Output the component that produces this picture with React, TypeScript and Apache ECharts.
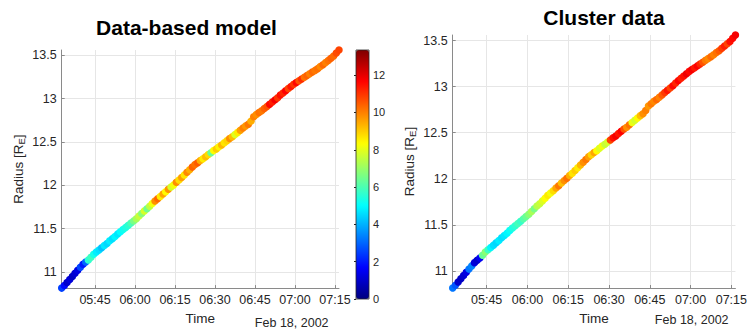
import React, { useEffect, useRef } from "react";
import * as echarts from "echarts";

// Sample times: one sample per minute starting 05:32:30 on Feb 18, 2002
const startTime = new Date(2002, 1, 18, 5, 32, 30).getTime();
const sampleStepMs = 60 * 1000;

// Radial distance [R_E] for each sample
const radius = [
  10.815, 10.845, 10.88, 10.915, 10.95, 10.985, 11.02, 11.055, 11.09, 11.115, 11.14, 11.17, 11.205,
  11.23, 11.255, 11.28, 11.305, 11.33, 11.36, 11.385, 11.41, 11.44, 11.465,
  11.49, 11.515, 11.54, 11.565, 11.59, 11.615, 11.645, 11.675, 11.705, 11.73,
  11.76, 11.79, 11.82, 11.845, 11.87, 11.9, 11.925, 11.955, 11.98, 12.005,
  12.035, 12.06, 12.09, 12.12, 12.15, 12.18, 12.21, 12.24, 12.26, 12.285,
  12.305, 12.33, 12.355, 12.375, 12.4, 12.42, 12.445, 12.465, 12.49, 12.515,
  12.54, 12.56, 12.585, 12.61, 12.635, 12.66, 12.685, 12.705, 12.74, 12.79,
  12.815, 12.84, 12.86, 12.885, 12.91, 12.935, 12.96, 12.985, 13.01, 13.04,
  13.065, 13.09, 13.115, 13.14, 13.165, 13.185, 13.205, 13.225, 13.245, 13.265,
  13.285, 13.305, 13.325, 13.345, 13.37, 13.39, 13.415, 13.44, 13.465, 13.49,
  13.525, 13.56,
];

// Colour value of the data-based model (left panel)
const modelValue = [
  2.5, 1.8, 1.0, 1.2, 0.9, 1.1, 1.3, 2.6, 2.0, 3.0, 5.6, 5.8, 5.3,
  4.8, 4.6, 4.2, 4.7, 4.5, 4.8, 4.6, 4.9, 4.7, 5.0,
  5.2, 5.4, 5.6, 6.0, 6.6, 7.2, 7.6, 6.8, 7.8, 6.5,
  7.5, 8.2, 9.8, 10.3, 8.6, 9.5, 8.4, 9.7, 7.8, 8.2,
  9.8, 8.8, 9.6, 8.7, 9.9, 9.4, 10.4, 10.2, 10.5, 9.4,
  8.6, 9.2, 8.8, 6.4, 8.4, 9.0, 8.5, 9.3, 8.7, 8.9,
  9.8, 9.2, 7.9, 8.6, 9.6, 10.0, 9.7, 10.1, 9.4, 10.0,
  9.8, 10.2, 10.1, 10.4, 10.6, 11.6, 11.3, 11.8, 11.0, 11.5,
  11.2, 11.7, 10.8, 11.4, 11.0, 11.6, 10.6, 11.1, 10.2, 10.4,
  10.0, 10.3, 10.1, 10.2, 9.9, 10.3, 10.0, 10.2, 10.4, 10.3,
  10.7, 10.8,
];

// Colour value of the Cluster data (right panel)
const clusterValue = [
  3.2, 2.8, 1.0, 0.9, 1.1, 1.3, 3.2, 3.4, 1.2, 1.0, 1.5, 6.4, 6.8,
  5.8, 4.9, 4.6, 4.5, 4.8, 4.6, 4.7, 4.9, 5.1, 5.4,
  5.6, 5.9, 5.7, 6.1, 6.4, 6.8, 7.2, 6.6, 7.4, 7.6,
  7.9, 8.3, 8.6, 8.2, 8.8, 9.5, 10.1, 9.2, 9.8, 10.2,
  9.4, 8.7, 9.0, 8.6, 9.3, 9.8, 10.1, 9.6, 8.9, 9.5,
  8.4, 7.9, 8.2, 7.6, 7.8, 10.8, 11.5, 11.8, 11.4, 11.7,
  10.6, 9.8, 10.2, 8.1, 7.8, 8.4, 9.2, 9.8, 10.0, 9.7,
  10.1, 9.9, 10.3, 10.0, 10.5, 10.9, 11.4, 10.8, 11.6, 11.2,
  11.7, 11.3, 11.5, 11.9, 11.6, 11.8, 11.4, 11.7, 11.2, 10.6,
  10.1, 9.9, 10.3, 10.0, 10.2, 10.5, 10.9, 11.3, 10.8, 11.5,
  11.6, 11.8,
];

const titles = ["Data-based model", "Cluster data"];
const xAxisName = "Time";
const dateLabel = "Feb 18, 2002";
const colorbarMin = 0;
const colorbarMax = 13.35;
const colorbarStep = 2;
const jet = ["#00007f", "#0000ff", "#007fff", "#00ffff", "#7fff7f", "#ffff00", "#ff7f00", "#ff0000", "#7f0000"];

const FONT = '"Liberation Sans", Arial, Helvetica, sans-serif';
const TEXT = "#262626";
const AXIS = "#8a8a8a";
const GRID = "#e6e6e6";

const pad = (n: number) => (n < 10 ? "0" + n : "" + n);
const timeFmt = (v: number) => {
  const d = new Date(v);
  return pad(d.getHours()) + ":" + pad(d.getMinutes());
};

function makeX(gridIndex: number, nameGap: number) {
  return {
    type: "time",
    gridIndex,
    min: "dataMin",
    max: "dataMax",
    minInterval: 16 * 60 * 1000,
    maxInterval: 16 * 60 * 1000,
    axisLine: { show: true, lineStyle: { color: AXIS, width: 1 } },
    axisTick: { show: true, inside: true, length: 3, lineStyle: { color: AXIS } },
    axisLabel: {
      formatter: timeFmt,
      showMinLabel: false,
      showMaxLabel: false,
      color: TEXT,
      fontSize: 12.5,
      fontFamily: FONT,
      margin: 5,
      hideOverlap: false,
    },
    splitLine: { show: true, showMinLine: false, showMaxLine: false, lineStyle: { color: GRID, width: 1 } },
    name: xAxisName,
    nameLocation: "middle",
    nameGap,
    nameTextStyle: { color: TEXT, fontSize: 13.5, fontFamily: FONT },
  };
}

function makeY(gridIndex: number) {
  return {
    type: "value",
    gridIndex,
    min: "dataMin",
    max: "dataMax",
    splitNumber: 5,
    axisLine: { show: true, lineStyle: { color: AXIS, width: 1 } },
    axisTick: { show: true, inside: true, length: 3, lineStyle: { color: AXIS } },
    axisLabel: {
      showMinLabel: false,
      showMaxLabel: false,
      color: TEXT,
      fontSize: 12.5,
      fontFamily: FONT,
      margin: 5,
    },
    splitLine: { show: true, showMinLine: false, showMaxLine: false, lineStyle: { color: GRID, width: 1 } },
    name: "{a|Radius [R}{s|E}{a|]}",
    nameLocation: "middle",
    nameGap: 35,
    nameTextStyle: {
      rich: {
        a: { color: TEXT, fontSize: 13.5, fontFamily: FONT, lineHeight: 16, verticalAlign: "middle" },
        s: { color: TEXT, fontSize: 9.5, fontFamily: FONT, lineHeight: 10, verticalAlign: "bottom" },
      },
    },
  };
}

export default function App() {
  const ref = useRef<HTMLDivElement>(null);
  useEffect(() => {
    if (!ref.current) return;
    const chart = echarts.init(ref.current, null, { renderer: "svg" });
    const times = radius.map((_, i) => startTime + i * sampleStepMs);
    const modelData = radius.map((r, i) => [times[i], r, modelValue[i]]);
    const clusterData = radius.map((r, i) => [times[i], r, clusterValue[i]]);

    const option: any = {
      animation: false,
      backgroundColor: "#ffffff",
      grid: [
        { left: 61.7, top: 50, width: 277.3, height: 249 },
        { left: 452.7, top: 35, width: 288.3, height: 255 },
        {
          left: 356,
          top: 50,
          width: 13,
          height: 249,
          show: true,
          borderColor: "#262626",
          borderWidth: 0.8,
          backgroundColor: "rgba(0,0,0,0)",
          z: 10,
        },
      ],
      xAxis: [
        makeX(0, 16.5),
        makeX(1, 23),
        { type: "value", gridIndex: 2, show: false, min: 0, max: 1 },
      ],
      yAxis: [
        makeY(0),
        makeY(1),
        {
          type: "value",
          gridIndex: 2,
          min: colorbarMin,
          max: colorbarMax,
          interval: colorbarStep,
          position: "right",
          axisLine: { show: false },
          axisTick: { show: true, inside: true, length: 2, lineStyle: { color: "#262626" } },
          axisLabel: { showMaxLabel: false, margin: 4, fontSize: 11, fontFamily: FONT, color: TEXT },
          splitLine: { show: false },
        },
      ],
      visualMap: [
        {
          type: "continuous",
          seriesIndex: 0,
          dimension: 2,
          min: colorbarMin,
          max: colorbarMax,
          inRange: { color: jet },
          show: true,
          calculable: false,
          hoverLink: false,
          left: 356,
          top: 50,
          itemWidth: 13,
          itemHeight: 249,
          padding: 0,
        },
        {
          type: "continuous",
          seriesIndex: 1,
          dimension: 2,
          min: colorbarMin,
          max: colorbarMax,
          inRange: { color: jet },
          show: false,
        },
      ],
      series: [
        {
          type: "scatter",
          xAxisIndex: 0,
          yAxisIndex: 0,
          data: modelData,
          symbolSize: 7.5,
          silent: true,
          itemStyle: { opacity: 1 },
        },
        {
          type: "scatter",
          xAxisIndex: 1,
          yAxisIndex: 1,
          data: clusterData,
          symbolSize: 7.5,
          silent: true,
          itemStyle: { opacity: 1 },
        },
      ],
      graphic: [
        {
          type: "text",
          x: 186.5,
          y: 27.5,
          style: { text: titles[0], fontSize: 21, fontWeight: "bold", fontFamily: FONT, fill: "#000", textAlign: "center", textVerticalAlign: "middle" },
        },
        {
          type: "text",
          x: 604,
          y: 17.6,
          style: { text: titles[1], fontSize: 21, fontWeight: "bold", fontFamily: FONT, fill: "#000", textAlign: "center", textVerticalAlign: "middle" },
        },
        {
          type: "text",
          x: 291.7,
          y: 322.5,
          style: { text: dateLabel, fontSize: 12.5, fontFamily: FONT, fill: TEXT, textAlign: "center", textVerticalAlign: "middle" },
        },
        {
          type: "text",
          x: 691.7,
          y: 320,
          style: { text: dateLabel, fontSize: 12.5, fontFamily: FONT, fill: TEXT, textAlign: "center", textVerticalAlign: "middle" },
        },
      ],
    };
    chart.setOption(option);
    return () => chart.dispose();
  }, []);
  return <div ref={ref} style={{ position: "fixed", left: 0, top: 0, width: 750, height: 330 }} />;
}
